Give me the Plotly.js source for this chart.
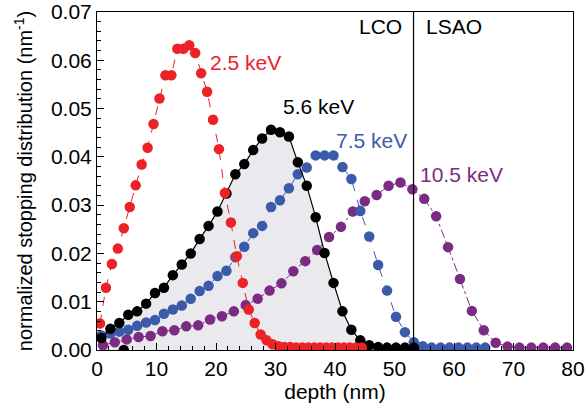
<!DOCTYPE html>
<html>
<head>
<meta charset="utf-8">
<script src="https://cdn.plot.ly/plotly-3.0.1.min.js"></script>
<style>html,body{margin:0;padding:0;background:#fff;}#chart{width:585px;height:412px;}</style>
</head>
<body>
<div id="chart"></div>
<script>
// 2.5 keV (1 nm bins)
const redX = [0.5,1.5,2.5,3.5,4.5,5.5,6.5,7.5,8.5,9.5,10.5,11.5,12.5,13.5,14.5,15.5,16.5,17.5,18.5,19.5,20.5,21.5,22.5,23.5,24.5,25.5,26.5,27.5,28.5,29.5,30.5,31.5,32.5,33.5,34.5,35.5,36.5,37.5,38.5,39.5,40.5,41.5,42.5,43.5,44.5];
const redY = [0.0055,0.0129,0.0178,0.0210,0.0252,0.0296,0.0341,0.0384,0.0419,0.0468,0.0521,0.0569,0.0569,0.0624,0.0624,0.0631,0.0615,0.0573,0.0535,0.0477,0.0416,0.0325,0.0264,0.0194,0.0139,0.0084,0.0056,0.0032,0.0020,0.0012,0.0008,0.0006,0.0006,0.0005,0.0005,0.0005,0.0005,0.0005,0.0005,0.0005,0.0005,0.0005,0.0005,0.0005,0.0005];
// 5.6 keV (1.5 nm bins)
const blackX = [0.75,2.25,3.75,5.25,6.75,8.25,9.75,11.25,12.75,14.25,15.75,17.25,18.75,20.25,21.75,23.25,24.75,26.25,27.75,29.25,30.75,32.25,33.75,35.25,36.75,38.25,39.75,41.25,42.75,44.25,45.75,47.25,48.75,50.25,51.75,53.25];
const blackY = [0.0025,0.0044,0.0056,0.0073,0.0080,0.0096,0.0118,0.0129,0.0155,0.0177,0.0200,0.0230,0.0257,0.0287,0.0324,0.0364,0.0385,0.0414,0.0438,0.0456,0.0451,0.0442,0.0389,0.0340,0.0275,0.0201,0.0139,0.0080,0.0042,0.0020,0.0010,0.0006,0.0005,0.0005,0.0005,0.0005];
// isolated point at zero
const strayX = [4.5];
const strayY = [0];
// 7.5 keV (1.5 nm bins)
const blueX = [0.75,2.25,3.75,5.25,6.75,8.25,9.75,11.25,12.75,14.25,15.75,17.25,18.75,20.25,21.75,23.25,24.75,26.25,27.75,29.25,30.75,32.25,33.75,35.25,36.75,38.25,39.75,41.25,42.75,44.25,45.75,47.25,48.75,50.25,51.75,53.25,54.75,56.25,57.75,59.25,60.75,62.25,63.75,65.25];
const blueY = [0.0030,0.0034,0.0038,0.0042,0.0050,0.0057,0.0062,0.0075,0.0084,0.0092,0.0106,0.0122,0.0133,0.0153,0.0164,0.0192,0.0214,0.0242,0.0257,0.0296,0.0310,0.0335,0.0364,0.0378,0.0403,0.0403,0.0403,0.0379,0.0354,0.0288,0.0235,0.0176,0.0123,0.0069,0.0037,0.0016,0.0008,0.0005,0.0005,0.0005,0.0005,0.0005,0.0005,0.0005];
// 10.5 keV (2 nm bins)
const purpleX = [1,3,5,7,9,11,13,15,17,19,21,23,25,27,29,31,33,35,37,39,41,43,45,47,49,51,53,55,57,59,61,63,65,67,69,71,73,75,77,79];
const purpleY = [0.0010,0.0016,0.0022,0.0027,0.0029,0.0039,0.0041,0.0049,0.0051,0.0063,0.0070,0.0080,0.0093,0.0106,0.0123,0.0138,0.0163,0.0184,0.0207,0.0234,0.0255,0.0287,0.0308,0.0321,0.0340,0.0347,0.0333,0.0313,0.0277,0.0213,0.0147,0.0081,0.0041,0.0015,0.0007,0.0005,0.0005,0.0005,0.0005,0.0005];

const interfaceX = 53.2;
const labels = ["2.5 keV","5.6 keV","7.5 keV","10.5 keV"];
const labelX = [24.9, 37.3, 46.1, 61.3];
const labelY = [0.0596, 0.0504, 0.0433, 0.0363];
const layerNames = ["LCO","LSAO"];
const layerX = [47.6, 60.0];
const layerY = 0.0669;

const RED = "#ec2227", BLACK = "#000000", BLUE = "#3b5aa9", PURPLE = "#7c2b83";
const FONT = "Arial, 'Liberation Sans', Helvetica, sans-serif";
const MS = 10.5;

const traces = [
  {x: blackX, y: blackY, type: "scatter", mode: "lines", fill: "tozeroy",
   fillcolor: "#e9e9ee", line: {width: 0, color: "rgba(0,0,0,0)"}, hoverinfo: "skip"},
  {x: purpleX, y: purpleY, type: "scatter", mode: "lines+markers",
   line: {color: PURPLE, width: 1, dash: "dashdot"}, marker: {color: PURPLE, size: MS}},
  {x: blueX, y: blueY, type: "scatter", mode: "lines+markers",
   line: {color: BLUE, width: 1, dash: "dash"}, marker: {color: BLUE, size: MS}},
  {x: blackX, y: blackY, type: "scatter", mode: "lines+markers",
   line: {color: BLACK, width: 1.2}, marker: {color: BLACK, size: MS}},
  {x: strayX, y: strayY, type: "scatter", mode: "markers",
   marker: {color: BLACK, size: MS}},
  {x: redX, y: redY, type: "scatter", mode: "lines+markers",
   line: {color: RED, width: 1, dash: "dash"}, marker: {color: RED, size: MS}}
];

const colors = [RED, BLACK, BLUE, PURPLE];
const annotations = labels.map((t, i) => ({
  x: labelX[i], y: labelY[i], xref: "x", yref: "y", text: t, showarrow: false,
  font: {family: FONT, size: 21, color: colors[i]}
})).concat(layerNames.map((t, i) => ({
  x: layerX[i], y: layerY, xref: "x", yref: "y", text: t, showarrow: false,
  font: {family: FONT, size: 21, color: "#000"}
})));

const layout = {
  width: 585, height: 412,
  margin: {l: 97, r: 12, t: 12, b: 62},
  paper_bgcolor: "#fff", plot_bgcolor: "#fff",
  showlegend: false,
  font: {family: FONT, size: 21, color: "#000"},
  xaxis: {
    range: [0, 80], tickmode: "linear", tick0: 0, dtick: 10,
    ticks: "inside", ticklen: 7, tickwidth: 1, tickcolor: "#000",
    minor: {dtick: 2, ticks: "inside", ticklen: 4, tickcolor: "#000", showgrid: false},
    showline: true, linecolor: "#000", linewidth: 1, mirror: true,
    showgrid: false, zeroline: false,
    tickfont: {family: FONT, size: 21},
    title: {text: "depth (nm)", font: {family: FONT, size: 21}, standoff: 3}
  },
  yaxis: {
    range: [0, 0.07], tickmode: "linear", tick0: 0, dtick: 0.01, tickformat: ".2f",
    ticks: "inside", ticklen: 7, tickwidth: 1, tickcolor: "#000",
    minor: {dtick: 0.002, ticks: "inside", ticklen: 4, tickcolor: "#000", showgrid: false},
    showline: true, linecolor: "#000", linewidth: 1, mirror: true,
    showgrid: false, zeroline: false,
    tickfont: {family: FONT, size: 21},
    title: {text: "normalized stopping distribution (nm<sup>-1</sup>)", font: {family: FONT, size: 20}, standoff: 12}
  },
  shapes: [{type: "line", xref: "x", yref: "paper", x0: interfaceX, x1: interfaceX, y0: 0, y1: 1,
            line: {color: "#000", width: 1.2}}],
  annotations: annotations
};

Plotly.newPlot("chart", traces, layout, {displayModeBar: false, staticPlot: true});
</script>
</body>
</html>
